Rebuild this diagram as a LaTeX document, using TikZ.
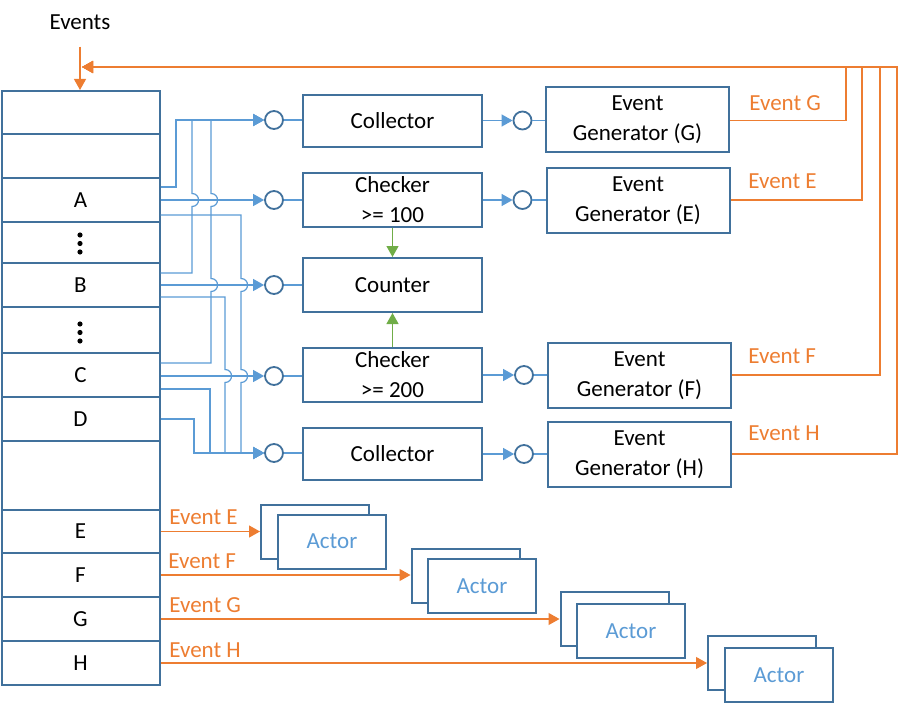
\documentclass[tikz,border=0pt]{standalone}
\usepackage{fontspec}
\setmainfont{Carlito}
\usetikzlibrary{arrows.meta}
\definecolor{boxblue}{HTML}{41719C}
\definecolor{wireblue}{HTML}{5B9BD5}
\definecolor{evorange}{HTML}{ED7D31}
\definecolor{cntgreen}{HTML}{70AD47}

\begin{document}
\begin{tikzpicture}[x=0.5pt,y=-0.5pt,
    font=\fontsize{11.5}{15}\selectfont,
    cell/.style={draw=boxblue, line width=1pt, minimum width=79pt, inner sep=0pt},
    block/.style={draw=boxblue, line width=1pt, align=center, inner sep=0pt},
    port/.style={circle, draw=boxblue, line width=0.9pt, minimum size=9pt, inner sep=0pt},
    wire/.style={draw=wireblue, line width=0.6pt},
    feed/.style={wire, -{Triangle[length=5.5pt,width=6pt]}},
    evt/.style={draw=evorange, line width=0.6pt, -{Triangle[length=5.5pt,width=6pt]}},
    evtext/.style={text=evorange, anchor=west, inner sep=0pt},
    cntarrow/.style={draw=cntgreen, line width=0.6pt, -{Triangle[length=5.5pt,width=6pt]}},
    actor/.style={draw=boxblue, fill=white, line width=1pt, minimum width=54pt, minimum height=27pt, text=wireblue}]
    \useasboundingbox (0,0) rectangle (899,706);

    % Event queue
    \node (events) at (80,22) {Events};
    \node[cell, minimum height=21.5pt] (top1) at (80.5,112.5) {};
    \node[cell, minimum height=22pt] (top2) at (80.5,156) {};
    \node[cell, minimum height=22pt] (A) at (80.5,200) {A};
    \node[cell, minimum height=20.5pt] (dots1) at (80.5,242.5) {};
    \node[cell, minimum height=22pt] (B) at (80.5,285) {B};
    \node[cell, minimum height=23pt] (dots2) at (80.5,330) {};
    \node[cell, minimum height=22pt] (C) at (80.5,375) {C};
    \node[cell, minimum height=22pt] (D) at (80.5,419) {D};
    \node[cell, minimum height=34.5pt] (gap) at (80.5,475.5) {};
    \node[cell, minimum height=21.5pt] (E) at (80.5,531.5) {E};
    \node[cell, minimum height=22pt] (F) at (80.5,575) {F};
    \node[cell, minimum height=22pt] (G) at (80.5,619) {G};
    \node[cell, minimum height=22pt] (H) at (80.5,663) {H};
    \draw[evt] ([shift={(0,10)}]events.south) -- (events.south |- top1.north);

    % Vertical dots
    \fill (80,235) circle (1.3pt) (80,243.5) circle (1.3pt) (80,252) circle (1.3pt);
    \fill (80,324) circle (1.3pt) (80,332.5) circle (1.3pt) (80,341) circle (1.3pt);

    % Input ports
    \node[port] (pColl1) at (274,120) {};
    \node[port] (pChk1) at (274,200) {};
    \node[port] (pCount) at (274,285) {};
    \node[port] (pChk2) at (274,376) {};
    \node[port] (pColl2) at (274,453) {};

    % Blocks
    \node[block, minimum width=89.5pt, minimum height=26pt] (coll1) at (392.5,121) {Collector};
    \node[block, minimum width=89.5pt, minimum height=27pt] (chk1) at (392.5,200) {Checker\\>= 100};
    \node[block, minimum width=89.5pt, minimum height=27pt] (count) at (392.5,285) {Counter};
    \node[block, minimum width=89.5pt, minimum height=27pt] (chk2) at (392.5,375) {Checker\\>= 200};
    \node[block, minimum width=89.5pt, minimum height=26pt] (coll2) at (392.5,454) {Collector};
    \draw[cntarrow] (chk1) -- (count);
    \draw[cntarrow] (chk2) -- (count);

    % Output ports
    \node[port] (oColl1) at (522.5,120.5) {};
    \node[port] (oChk1) at (522.5,200) {};
    \node[port] (oChk2) at (524,375) {};
    \node[port] (oColl2) at (524,454) {};

    % Event generators
    \node[block, minimum width=91.5pt, minimum height=32.5pt] (genG) at (637.5,119.5) {Event\\Generator (G)};
    \node[block, minimum width=91.5pt, minimum height=32.5pt] (genE) at (638,200.5) {Event\\Generator (E)};
    \node[block, minimum width=91.5pt, minimum height=32.5pt] (genF) at (639.5,375.5) {Event\\Generator (F)};
    \node[block, minimum width=91.5pt, minimum height=32.5pt] (genH) at (639.5,454.5) {Event\\Generator (H)};

    % Port to block links
    \draw[wire] (pColl1) -- (coll1.west |- pColl1);
    \draw[wire] (pChk1) -- (chk1.west |- pChk1);
    \draw[wire] (pCount) -- (count.west |- pCount);
    \draw[wire] (pChk2) -- (chk2.west |- pChk2);
    \draw[wire] (pColl2) -- (coll2.west |- pColl2);
    \draw[feed] (coll1.east |- oColl1) -- (oColl1);
    \draw[feed] (chk1.east |- oChk1) -- (oChk1);
    \draw[feed] (chk2.east |- oChk2) -- (oChk2);
    \draw[feed] (coll2.east |- oColl2) -- (oColl2);
    \draw[wire] (oColl1) -- (genG.west |- oColl1);
    \draw[wire] (oChk1) -- (genE.west |- oChk1);
    \draw[wire] (oChk2) -- (genF.west |- oChk2);
    \draw[wire] (oColl2) -- (genH.west |- oColl2);

    % Wires from A
    \draw[feed] ([shift={(0,-13)}]A.east) -| (176,120) -- (pColl1);
    \draw[feed] (A.east) -- (pChk1);
    \draw[feed] ([shift={(0,15)}]A.east) -- (241,215) -- (241,278.5)
        .. controls (249.7,278.5) and (249.7,291.5) .. (241,291.5) -- (241,369.5)
        .. controls (249.7,369.5) and (249.7,382.5) .. (241,382.5) -- (241,453) -- (pColl2);

    % Wires from B
    \draw[feed] ([shift={(0,-12)}]B.east) -- (192,273) -- (192,206.5)
        .. controls (200.7,206.5) and (200.7,193.5) .. (192,193.5) -- (192,120) -- (pColl1);
    \draw[feed] (B.east) -- (pCount);
    \draw[feed] ([shift={(0,12)}]B.east) -- (225,297) -- (225,369.5)
        .. controls (233.7,369.5) and (233.7,382.5) .. (225,382.5) -- (225,453) -- (pColl2);

    % Wires from C and D
    \draw[feed] ([shift={(0,-12)}]C.east) -- (211,363) -- (211,291.5)
        .. controls (219.7,291.5) and (219.7,278.5) .. (211,278.5) -- (211,206.5)
        .. controls (219.7,206.5) and (219.7,193.5) .. (211,193.5) -- (211,120) -- (pColl1);
    \draw[feed] (C.east |- pChk2) -- (pChk2);
    \draw[feed] ([shift={(0,14)}]C.east) -| (210,453) -- (pColl2);
    \draw[feed] (D.east) -| (194,453) -- (pColl2);

    % Generated events back to the queue
    \coordinate (ret) at (82,67);
    \node[evtext] (lblG) at (749,103) {Event G};
    \node[evtext] (lblE) at (748,181) {Event E};
    \node[evtext] (lblF) at (748,356) {Event F};
    \node[evtext] (lblH) at (748,433) {Event H};
    \draw[evt] (genG.east |- oColl1) -| (846,67) -- (ret);
    \draw[evt] (genE.east |- oChk1) -| (862,67) -- (ret);
    \draw[evt] (genF.east |- oChk2) -| (880,67) -- (ret);
    \draw[evt] (genH.east |- oColl2) -| (897,67) -- (ret);

    % Actors
    \node[actor] (act1b) at (315,532) {};
    \node[actor] (act1) at (332,541.5) {Actor};
    \node[actor] (act2b) at (465.5,576) {};
    \node[actor] (act2) at (482,586) {Actor};
    \node[actor] (act3b) at (614.5,619) {};
    \node[actor] (act3) at (631,631) {Actor};
    \node[actor] (act4b) at (762,663) {};
    \node[actor] (act4) at (779,675) {Actor};

    % Events to actors
    \node[evtext] (lblE2) at (169,517) {Event E};
    \node[evtext] (lblF2) at (168,561) {Event F};
    \node[evtext] (lblG2) at (169,605) {Event G};
    \node[evtext] (lblH2) at (169,650) {Event H};
    \draw[evt] (E.east) -- (E.east -| act1b.west);
    \draw[evt] (F.east) -- (F.east -| act2b.west);
    \draw[evt] (G.east) -- (G.east -| act3b.west);
    \draw[evt] (H.east) -- (H.east -| act4b.west);
\end{tikzpicture}
\end{document}
